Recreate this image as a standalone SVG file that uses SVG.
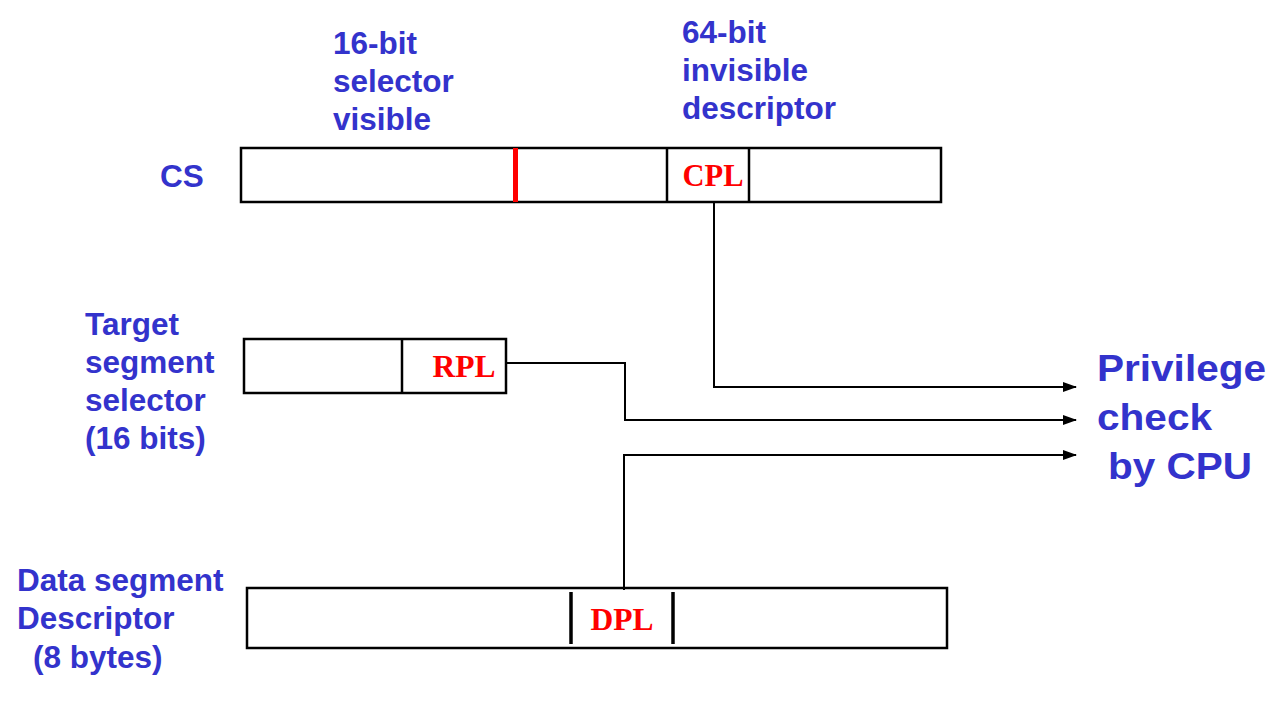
<svg xmlns="http://www.w3.org/2000/svg" width="1270" height="708" viewBox="0 0 1270 708">
<style>
.lbl{font-family:"Liberation Sans",Arial,sans-serif;font-weight:bold;font-size:31.5px;fill:#3333CC}
.big{font-family:"Liberation Sans",Arial,sans-serif;font-weight:bold;font-size:36px;fill:#3333CC}
.fld{font-family:"Liberation Serif","Times New Roman",serif;font-weight:bold;font-size:31px;fill:#FF0000;text-anchor:middle}
.box{fill:#fff;stroke:#000;stroke-width:2.5}
.div{stroke:#000;stroke-width:2.5}
.con{fill:none;stroke:#000;stroke-width:2}
</style>
<defs>
<marker id="ah" markerWidth="14" markerHeight="10" refX="13" refY="5" orient="auto" markerUnits="userSpaceOnUse">
<path d="M0,0 L14,5 L0,10 Z" fill="#000"/>
</marker>
</defs>
<rect width="1270" height="708" fill="#fff"/>
<g id="labels">
<text class="lbl" x="333" y="54">16-bit</text>
<text class="lbl" x="333" y="92">selector</text>
<text class="lbl" x="333" y="130">visible</text>
<text class="lbl" x="682" y="43">64-bit</text>
<text class="lbl" x="682" y="81">invisible</text>
<text class="lbl" x="682" y="119">descriptor</text>
</g>
<g id="cs">
<text class="lbl" x="160" y="187">CS</text>
<rect class="box" x="241" y="148" width="700" height="54"/>
<line x1="515.5" y1="148" x2="515.5" y2="202" stroke="#FF0000" stroke-width="5"/>
<line class="div" x1="667" y1="148" x2="667" y2="202"/>
<line class="div" x1="749" y1="148" x2="749" y2="202"/>
<text class="fld" x="713" y="186" textLength="61" lengthAdjust="spacingAndGlyphs">CPL</text>
</g>
<g id="target">
<text class="lbl" x="85" y="335">Target</text>
<text class="lbl" x="85" y="373">segment</text>
<text class="lbl" x="85" y="411">selector</text>
<text class="lbl" x="85" y="449">(16 bits)</text>
<rect class="box" x="244" y="339" width="262" height="54"/>
<line class="div" x1="402" y1="339" x2="402" y2="393"/>
<text class="fld" x="464" y="377" textLength="63" lengthAdjust="spacingAndGlyphs">RPL</text>
</g>
<g id="data">
<text class="lbl" x="17" y="591">Data segment</text>
<text class="lbl" x="17" y="629">Descriptor</text>
<text class="lbl" x="33" y="668">(8 bytes)</text>
<rect class="box" x="247" y="588" width="700" height="60"/>
<line x1="571" y1="592" x2="571" y2="644" stroke="#000" stroke-width="3.5"/>
<line x1="673" y1="592" x2="673" y2="644" stroke="#000" stroke-width="3.5"/>
<text class="fld" x="622" y="630" textLength="63" lengthAdjust="spacingAndGlyphs">DPL</text>
</g>
<g id="privilege">
<text class="big" x="1097" y="381" textLength="169" lengthAdjust="spacingAndGlyphs">Privilege</text>
<text class="big" x="1097" y="430" textLength="115" lengthAdjust="spacingAndGlyphs">check</text>
<text class="big" x="1108" y="479" textLength="144" lengthAdjust="spacingAndGlyphs">by CPU</text>
</g>
<g id="connectors">
<polyline class="con" points="714,202 714,387 1076,387" marker-end="url(#ah)"/>
<polyline class="con" points="506,363 625,363 625,420 1076,420" marker-end="url(#ah)"/>
<polyline class="con" points="624,590 624,455 1076,455" marker-end="url(#ah)"/>
</g>
</svg>
